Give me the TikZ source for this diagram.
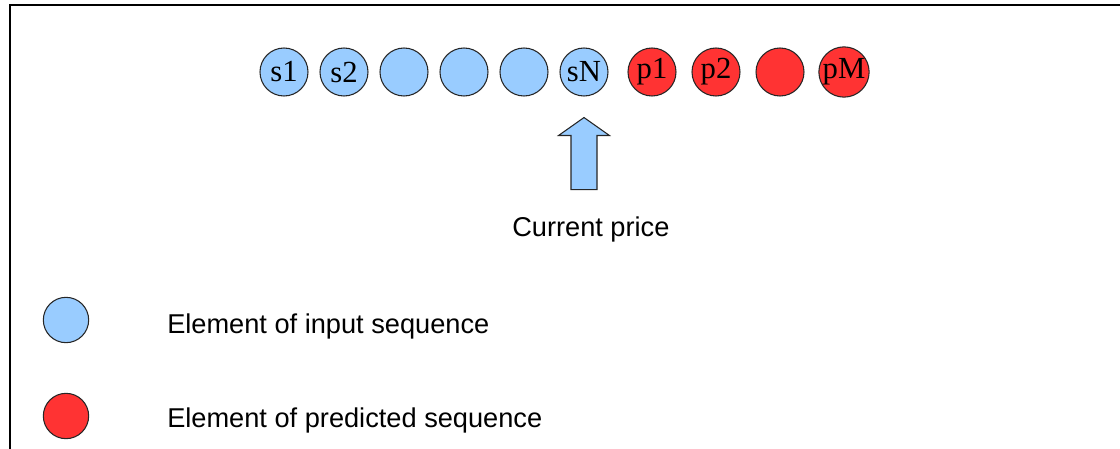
\documentclass[tikz,border=0pt]{standalone}
\usepackage{fontspec}
\setmainfont{Liberation Sans}
\newfontfamily\seqserif{Liberation Serif}
\usetikzlibrary{positioning}

\definecolor{inblue}{HTML}{99CCFF}
\definecolor{outred}{HTML}{FF3333}

\begin{document}
\begin{tikzpicture}[x=0.75pt,y=-0.75pt,node distance=45pt,
                    in node/.style={circle,draw=black!85,line width=0.8pt,fill=inblue,
                                    minimum size=36pt,inner sep=0pt,
                                    font=\seqserif\fontsize{23}{23}\selectfont},
                    out node/.style={in node,fill=outred},
                    key node/.style={in node,minimum size=34pt},
                    label text/.style={inner sep=0pt,anchor=base west,
                                       font=\fontsize{20.4}{24}\selectfont}]
    \useasboundingbox (0,0) rectangle (1120,449);

    % frame
    \draw[line width=1.6pt] (10,449) -- (10,5) -- (1120,5);

    % input sequence
    \node[in node] (s1) at (284,72) {s1};
    \node[in node] (s2) [right of=s1] {s2};
    \node[in node] (s3) [right of=s2] {};
    \node[in node] (s4) [right of=s3] {};
    \node[in node] (s5) [right of=s4] {};
    \node[in node] (sN) [right of=s5] {sN};

    % predicted sequence
    \node[out node] (p1) [right of=sN,node distance=51pt] {p1};
    \node[out node] (p2) [right of=p1,node distance=48pt] {p2};
    \node[out node] (p3) [right of=p2,node distance=48pt] {};
    \node[out node] (pM) [right of=p3,node distance=48pt] {pM};

    % current price pointer
    \draw[draw=black!85,line width=0.8pt,fill=inblue]
      (sN.south) ++(0,21) -- ++(25.5,18) -- ++(-12.5,0) -- ++(0,54)
      -- ++(-26,0) -- ++(0,-54) -- ++(-12.5,0) -- cycle;
    \node[label text] (price) at (512,236) {Current price};

    % legend
    \node[key node] (kin) at (66,320) {};
    \node[key node,fill=outred] (kout) at (66,416) {};
    \node[label text] (kintext) at (167,333) {Element of input sequence};
    \node[label text] (kouttext) at (167,427) {Element of predicted sequence};
\end{tikzpicture}
\end{document}
